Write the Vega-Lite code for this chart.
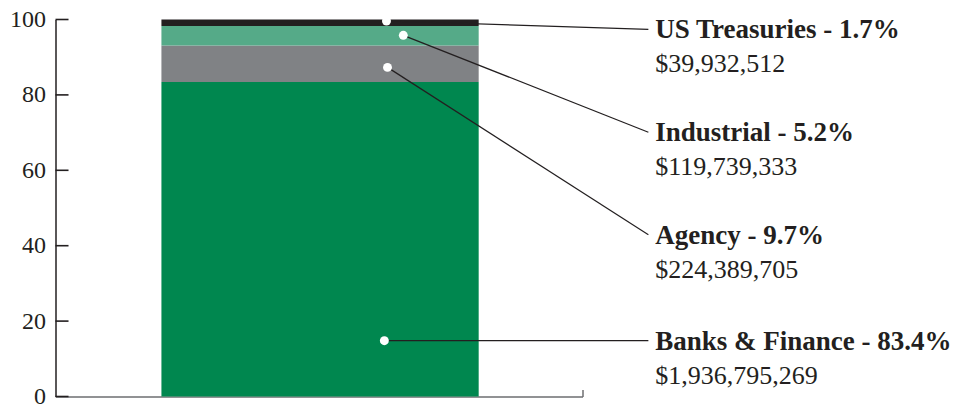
{
  "$schema": "https://vega.github.io/schema/vega-lite/v6.json",
  "width": 527,
  "height": 377,
  "autosize": {"type": "none"},
  "padding": {"left": 55.5, "top": 19.5, "right": 376.5, "bottom": 7.5},
  "background": "white",
  "config": {"view": {"stroke": null}},
  "datasets": {
    "segments": [
      {"segment": "Banks & Finance", "rank": 1, "pct": 83.4, "amount": 1936795269, "label": "Banks & Finance - 83.4%", "dot_x": 62.4, "dot_y": 14.8, "label_y": 14.8},
      {"segment": "Agency", "rank": 2, "pct": 9.7, "amount": 224389705, "label": "Agency - 9.7%", "dot_x": 63.0, "dot_y": 87.3, "label_y": 42.9},
      {"segment": "Industrial", "rank": 3, "pct": 5.2, "amount": 119739333, "label": "Industrial - 5.2%", "dot_x": 66.0, "dot_y": 95.8, "label_y": 70.1},
      {"segment": "US Treasuries", "rank": 4, "pct": 1.7, "amount": 39932512, "label": "US Treasuries - 1.7%", "dot_x": 62.8, "dot_y": 99.6, "label_y": 97.4}
    ],
    "yticks": [{"v": 0}, {"v": 20}, {"v": 40}, {"v": 60}, {"v": 80}, {"v": 100}]
  },
  "data": {"name": "segments"},
  "layer": [
    {
      "transform": [
        {"stack": "pct", "groupby": [], "sort": [{"field": "rank", "order": "ascending"}], "as": ["y_lo", "y_hi"]}
      ],
      "mark": {"type": "bar"},
      "encoding": {
        "x": {"datum": 20.1, "type": "quantitative", "scale": {"domain": [0, 100], "nice": false, "zero": false},
          "axis": {"values": [100], "tickSize": -7, "tickColor": "#58595b", "tickWidth": 1.3, "labels": false, "domainColor": "#6d6e71", "domainWidth": 1.5, "grid": false, "title": null}},
        "x2": {"datum": 80.3},
        "y": {"field": "y_lo", "type": "quantitative", "scale": {"domain": [0, 100], "nice": false},
          "axis": {"values": [0, 20, 40, 60, 80, 100], "ticks": false, "domainColor": "#231F20", "domainWidth": 1.5, "labelFont": "Liberation Serif", "labelFontSize": 24, "labelColor": "#231F20", "labelPadding": 10, "grid": false, "title": null}},
        "y2": {"field": "y_hi"},
        "color": {"field": "segment", "type": "nominal", "legend": null,
          "scale": {"domain": ["Banks & Finance", "Agency", "Industrial", "US Treasuries"], "range": ["#00874F", "#808285", "#55AA88", "#231F20"]}}
      }
    },
    {
      "data": {"name": "yticks"},
      "mark": {"type": "rule", "color": "#231F20", "strokeWidth": 1.6},
      "encoding": {
        "x": {"datum": 0, "type": "quantitative"},
        "x2": {"datum": 2.47},
        "y": {"field": "v", "type": "quantitative"}
      }
    },
    {
      "mark": {"type": "rule", "color": "#231F20", "strokeWidth": 1.2},
      "encoding": {
        "x": {"field": "dot_x", "type": "quantitative"},
        "y": {"field": "dot_y", "type": "quantitative"},
        "x2": {"datum": 112.5},
        "y2": {"field": "label_y"}
      }
    },
    {
      "mark": {"type": "circle", "color": "white", "opacity": 1, "size": 80},
      "encoding": {
        "x": {"field": "dot_x", "type": "quantitative"},
        "y": {"field": "dot_y", "type": "quantitative"}
      }
    },
    {
      "mark": {"type": "text", "align": "left", "baseline": "alphabetic", "dy": 9, "font": "Liberation Serif", "fontSize": 27, "fontWeight": "bold", "color": "#231F20"},
      "encoding": {
        "x": {"datum": 113.8, "type": "quantitative"},
        "y": {"field": "label_y", "type": "quantitative"},
        "text": {"field": "label"}
      }
    },
    {
      "mark": {"type": "text", "align": "left", "baseline": "alphabetic", "dy": 43, "font": "Liberation Serif", "fontSize": 26, "color": "#231F20"},
      "encoding": {
        "x": {"datum": 113.8, "type": "quantitative"},
        "y": {"field": "label_y", "type": "quantitative"},
        "text": {"field": "amount", "type": "quantitative", "format": "$,.0f"}
      }
    }
  ]
}
